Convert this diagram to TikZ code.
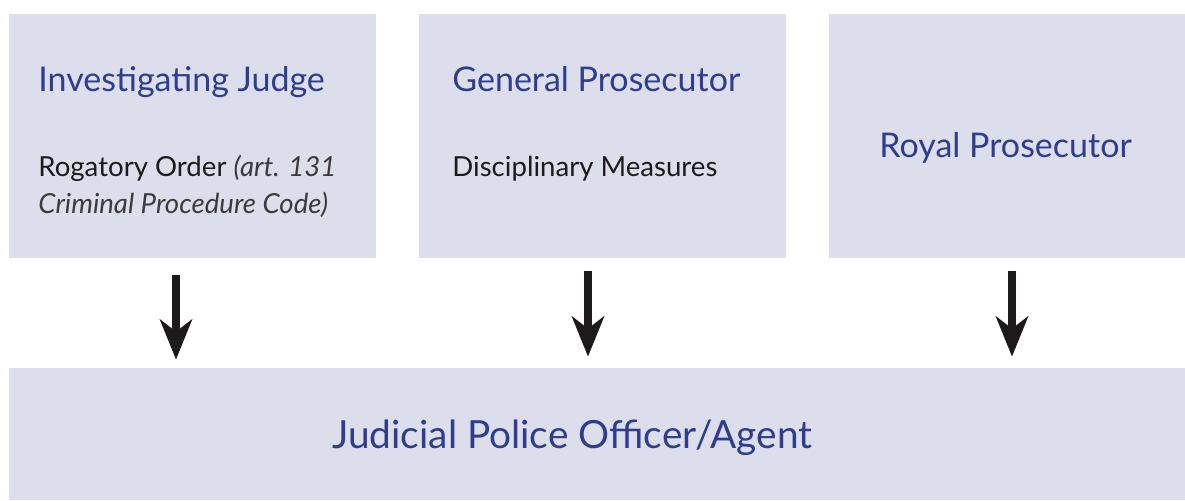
\documentclass[tikz,border=0pt]{standalone}
\usepackage{fontspec}
\setmainfont{Lato}
\usepackage{tikz}
\usepackage{xcolor}
\usetikzlibrary{arrows.meta, positioning}
\definecolor{PaleLilac}{HTML}{DCDEEB}
\definecolor{InkBlue}{HTML}{2E3D8F}
\definecolor{InkBlack}{HTML}{1C1A1B}
\definecolor{InkGray}{HTML}{3C3A3B}

\tikzset{
    panel/.style={rectangle, fill=PaleLilac, inner sep=0pt},
    heading/.style={anchor=base west, inner sep=0pt, text=InkBlue, font=\fontsize{17}{20}\selectfont},
    remark/.style={anchor=base west, inner sep=0pt, text=InkBlack, align=left,
                   font=\fontsize{13.8}{18.5}\selectfont},
    flow/.style={draw=InkBlack, line width=4pt,
                 -{Stealth[length=20pt, width=16pt, inset=6pt]}}
}

\begin{document}
\begin{tikzpicture}[x=0.5pt, y=-0.5pt]
    \useasboundingbox (0,0) rectangle (1185,500);

    % Three authorities
    \node[panel, minimum width=183.5pt, minimum height=122pt] (judge) at (192.5,136) {};
    \node[panel, minimum width=183.5pt, minimum height=122pt] (general) at (602.5,136) {};
    \node[panel, minimum width=178pt, minimum height=122pt] (royal) at (1007,136) {};

    % Officer
    \node[panel, minimum width=588pt, minimum height=66pt] (officer) at (597,434) {};

    % Texts
    \node[heading] (judgeT) at (38,91) {Investigating Judge};
    \node[remark] (judgeR) at (38,213) {Rogatory Order \textcolor{InkGray}{\itshape(art. 131}\\
        \textcolor{InkGray}{\itshape Criminal Procedure Code)}};
    \node[heading] (generalT) at (452,91) {General Prosecutor};
    \node[remark] (generalR) at (452,176) {Disciplinary Measures};
    \node[heading] (royalT) at (879,157) {Royal Prosecutor};
    \node[heading, font=\fontsize{19.4}{23}\selectfont] (officerT) at (332,448) {Judicial Police Officer/Agent};

    % Arrows
    \draw[flow, shorten <=8.5pt, shorten >=4pt] ([xshift=-8.25pt]judge.south) -- ([xshift=-8.25pt]judge.south |- officer.north);
    \draw[flow, shorten <=6.5pt, shorten >=5.5pt] ([xshift=-7.25pt]general.south) -- ([xshift=-7.25pt]general.south |- officer.north);
    \draw[flow, shorten <=6.5pt, shorten >=5.5pt] ([xshift=2.5pt]royal.south) -- ([xshift=2.5pt]royal.south |- officer.north);
\end{tikzpicture}
\end{document}
